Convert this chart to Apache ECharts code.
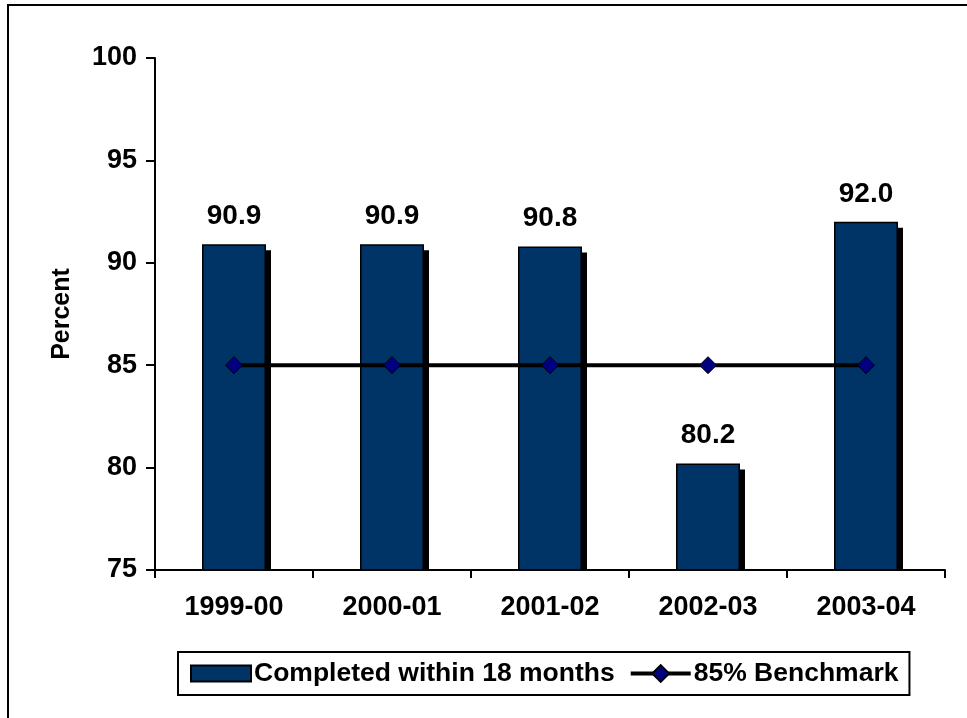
<!DOCTYPE html>
<html>
<head>
<meta charset="utf-8">
<script src="https://cdn.jsdelivr.net/npm/echarts@6/dist/echarts.min.js"></script>
<style>html,body{margin:0;padding:0;background:#fff;}#c{width:967px;height:718px;}</style>
</head>
<body>
<div id="c"></div>
<script>
const categories = ['1999-00', '2000-01', '2001-02', '2002-03', '2003-04'];
const completed = [90.9, 90.9, 90.8, 80.2, 92.0];
const benchmark = [85, 85, 85, 85, 85];
const yTicks = { min: 75, max: 100, interval: 5 };

const chart = echarts.init(document.getElementById('c'));
const font = 'Arial, "Liberation Sans", sans-serif';
const BAR_RATIO = 0.405;
chart.setOption({
  animation: false,
  backgroundColor: '#fff',
  textStyle: { fontFamily: font },
  graphic: [{
    type: 'polyline',
    shape: { points: [[8, 800], [8, 5], [1000, 5]] },
    style: { stroke: '#000', lineWidth: 2, fill: null },
    silent: true
  }],
  grid: { left: 155, right: 22, top: 58, bottom: 148 },
  legend: {
    left: 178, top: 652,
    padding: [8, 11, 8, 12],
    itemGap: 14,
    borderColor: '#000', borderWidth: 2,
    itemWidth: 60, itemHeight: 21,
    textStyle: { fontFamily: font, fontWeight: 'bold', fontSize: 26.5, color: '#000', padding: [0, 0, 0, -2] },
    data: [
      { name: 'Completed within 18 months', icon: 'path://M0,0H60V16H0Z M0,-2.5 M0,18.5' },
      { name: '85% Benchmark', lineStyle: { width: 4, color: '#000' } }
    ]
  },
  xAxis: {
    type: 'category',
    data: categories,
    axisLine: { lineStyle: { color: '#000', width: 2 } },
    axisTick: { show: true, length: 8, lineStyle: { color: '#000', width: 2 } },
    axisLabel: { color: '#000', fontWeight: 'bold', fontSize: 27, fontFamily: font, margin: 24 }
  },
  yAxis: {
    type: 'value',
    min: yTicks.min, max: yTicks.max, interval: yTicks.interval,
    name: 'Percent',
    nameLocation: 'middle',
    nameRotate: 90,
    nameGap: 80,
    nameTextStyle: { color: '#000', fontWeight: 'bold', fontSize: 25, fontFamily: font },
    axisLine: { show: true, lineStyle: { color: '#000', width: 2 } },
    axisTick: { show: true, length: 9, lineStyle: { color: '#000', width: 2 } },
    splitLine: { show: false },
    axisLabel: { color: '#000', fontWeight: 'bold', fontSize: 27, fontFamily: font, margin: 18 }
  },
  series: [
    {
      name: 'shadow',
      type: 'custom',
      data: completed.map((v, i) => [i, v]),
      encode: { x: 0, y: 1 },
      z: 1,
      silent: true,
      renderItem: function (params, api) {
        const idx = api.value(0);
        const top = api.coord([idx, api.value(1)]);
        const base = api.coord([idx, yTicks.min]);
        const w = api.size([1, 0])[0] * BAR_RATIO;
        return {
          type: 'rect',
          shape: { x: top[0] - w / 2 + 5, y: top[1] + 6, width: w, height: base[1] - top[1] - 6 },
          style: { fill: '#000' }
        };
      }
    },
    {
      name: 'Completed within 18 months',
      type: 'bar',
      data: completed,
      barWidth: (BAR_RATIO * 100) + '%',
      z: 2,
      itemStyle: { color: '#003366', borderColor: '#000', borderWidth: 1.5 },
      label: {
        show: true, position: 'top', distance: 14,
        formatter: p => p.value.toFixed(1),
        color: '#000', fontWeight: 'bold', fontSize: 28, fontFamily: font
      }
    },
    {
      name: '85% Benchmark',
      type: 'line',
      data: benchmark,
      symbol: 'diamond',
      symbolSize: 17,
      lineStyle: { color: '#000', width: 4 },
      itemStyle: { color: '#000080', borderColor: '#000', borderWidth: 1 },
      z: 5
    }
  ]
});
</script>
</body>
</html>
